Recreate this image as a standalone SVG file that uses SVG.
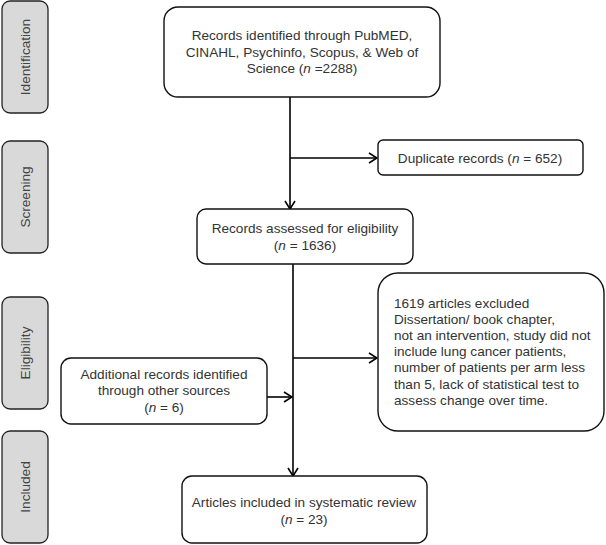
<svg xmlns="http://www.w3.org/2000/svg" width="606" height="545" viewBox="0 0 606 545">
<defs>
<marker id="arr" markerWidth="10" markerHeight="12" refX="9" refY="6" orient="auto" markerUnits="userSpaceOnUse">
<path d="M1,1 L9,6 L1,11" fill="none" stroke="#000" stroke-width="1.6"/>
</marker>
<style>
.phase{fill:#d9d9d9;stroke:#222;stroke-width:1.3}
.box{fill:#fff;stroke:#111;stroke-width:1.4}
.t{font-family:"Liberation Sans",Arial,sans-serif;font-size:13.6px;fill:#333}
.c{text-anchor:middle}
.ph{font-family:"Liberation Sans",Arial,sans-serif;font-size:13.6px;fill:#444;text-anchor:middle}
.ln{fill:none;stroke:#000;stroke-width:1.6}
</style>
</defs>
<rect width="606" height="545" fill="#fff"/>
<g id="phase-identification"><rect class="phase" x="2" y="1" width="46" height="112" rx="8"/><text class="ph" transform="translate(30,57) rotate(-90)">Identification</text></g>
<g id="phase-screening"><rect class="phase" x="2" y="141" width="46" height="112" rx="8"/><text class="ph" transform="translate(30,197) rotate(-90)">Screening</text></g>
<g id="phase-eligibility"><rect class="phase" x="2" y="297" width="46" height="112" rx="8"/><text class="ph" transform="translate(30,353) rotate(-90)">Eligibility</text></g>
<g id="phase-included"><rect class="phase" x="2" y="431" width="46" height="112" rx="8"/><text class="ph" transform="translate(30,487) rotate(-90)">Included</text></g>

<g id="connectors">
<line class="ln" x1="290" y1="97" x2="290" y2="209" marker-end="url(#arr)"/>
<line class="ln" x1="290" y1="158" x2="377" y2="158" marker-end="url(#arr)"/>
<line class="ln" x1="293" y1="264" x2="293" y2="476" marker-end="url(#arr)"/>
<line class="ln" x1="293" y1="358" x2="377" y2="358" marker-end="url(#arr)"/>
<line class="ln" x1="267" y1="397" x2="292" y2="397" marker-end="url(#arr)"/>
</g>

<g id="records-identified"><rect class="box" x="164" y="7" width="276" height="90" rx="14"/>
<text class="t c" x="302" y="40">Records identified through PubMED,</text>
<text class="t c" x="302" y="57">CINAHL, Psychinfo, Scopus, &amp; Web of</text>
<text class="t c" x="302" y="73">Science (<tspan font-style="italic">n</tspan> =2288)</text></g>

<g id="duplicates"><rect class="box" x="378" y="140" width="205" height="35" rx="5"/>
<text class="t c" x="480" y="163">Duplicate records (<tspan font-style="italic">n</tspan> = 652)</text></g>

<g id="assessed"><rect class="box" x="197" y="209" width="216" height="55" rx="9"/>
<text class="t c" x="305" y="233">Records assessed for eligibility</text>
<text class="t c" x="305" y="250">(<tspan font-style="italic">n</tspan> = 1636)</text></g>

<g id="excluded"><rect class="box" x="378" y="273" width="226" height="158" rx="20"/>
<text class="t" x="394" y="308">1619 articles excluded</text>
<text class="t" x="394" y="324">Dissertation/ book chapter,</text>
<text class="t" x="394" y="340">not an intervention, study did not</text>
<text class="t" x="394" y="356">include lung cancer patients,</text>
<text class="t" x="394" y="372">number of patients per arm less</text>
<text class="t" x="394" y="389">than 5, lack of statistical test to</text>
<text class="t" x="394" y="405">assess change over time.</text></g>

<g id="additional"><rect class="box" x="61" y="358" width="206" height="66" rx="10"/>
<text class="t c" x="164" y="379">Additional records identified</text>
<text class="t c" x="164" y="395">through other sources</text>
<text class="t c" x="164" y="412">(<tspan font-style="italic">n</tspan> = 6)</text></g>

<g id="included"><rect class="box" x="182" y="476" width="245" height="67" rx="10"/>
<text class="t c" x="304" y="507">Articles included in systematic review</text>
<text class="t c" x="304" y="524">(<tspan font-style="italic">n</tspan> = 23)</text></g>
</svg>
